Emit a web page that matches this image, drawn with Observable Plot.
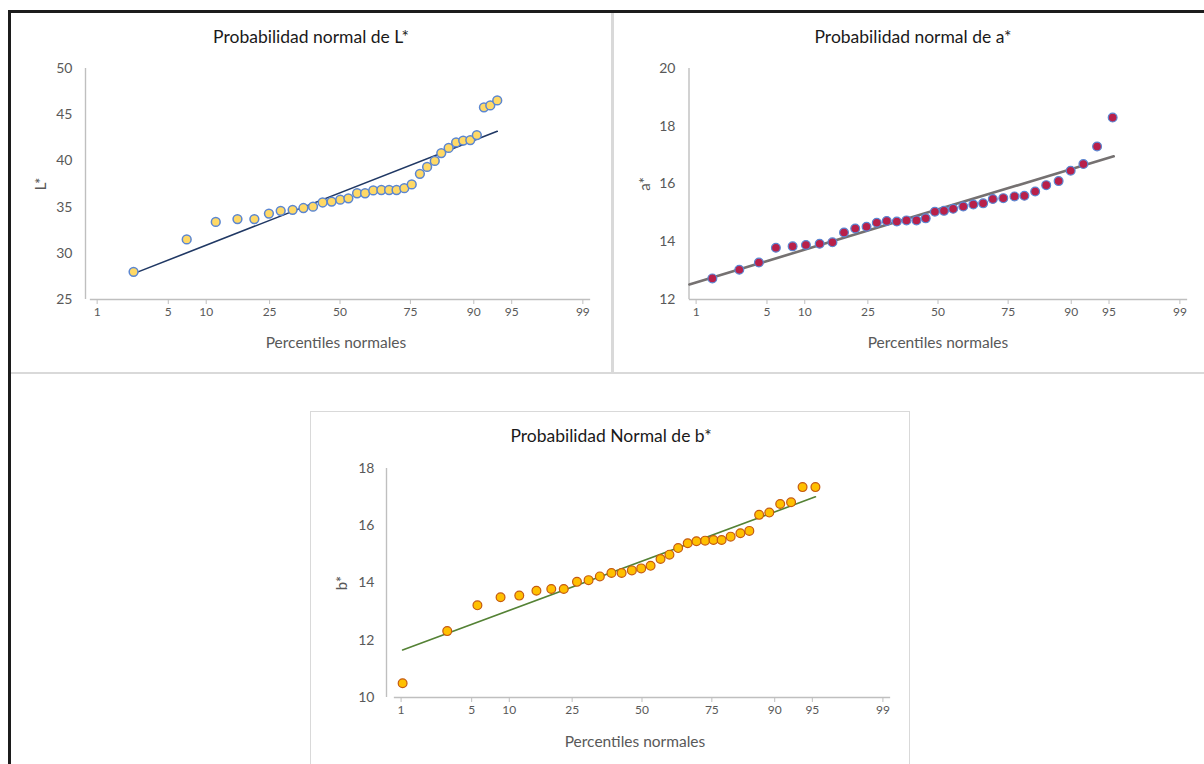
<!DOCTYPE html>
<html>
<head>
<meta charset="utf-8">
<script src="https://cdn.jsdelivr.net/npm/d3@7"></script>
<script src="https://cdn.jsdelivr.net/npm/@observablehq/plot@0.6"></script>
<style>
  html, body { margin: 0; padding: 0; background: #fff; }
  #page { position: relative; width: 1204px; height: 764px; overflow: hidden; background: #fff; font-family: Lato, "Open Sans", sans-serif; }
  .abs { position: absolute; }
  .chart svg { overflow: visible; }
</style>
</head>
<body>
<div id="page">
  <div class="abs" style="left:8px;top:10px;width:1196px;height:3px;background:#1c1c1c"></div>
  <div class="abs" style="left:8px;top:10px;width:3px;height:754px;background:#1c1c1c"></div>
  <div class="abs" style="left:611px;top:13px;width:3px;height:360px;background:#d9d9d9"></div>
  <div class="abs" style="left:11px;top:372px;width:1193px;height:2px;background:#d9d9d9"></div>
  <div class="abs" style="left:310px;top:411px;width:600px;height:370px;border:1.5px solid #d9d9d9;box-sizing:border-box"></div>
  <div id="cL" class="abs chart" style="left:0px;top:0px"></div>
  <div id="cA" class="abs chart" style="left:610px;top:0px"></div>
  <div id="cB" class="abs chart" style="left:300px;top:375px"></div>
</div>
<script>
const tickPct = [1, 5, 10, 25, 50, 75, 90, 95, 99];

const lTitle = "Probabilidad normal de L*";
const lTicks = [25, 30, 35, 40, 45, 50];
const lPct = [2.4, 7.1, 11.7, 16.3, 20.6, 24.8, 28.5, 32.5, 36.3, 39.8, 43.4, 46.8, 50.1, 53.2, 56.5, 59.5, 62.5, 65.4, 68.1, 70.6, 73.1, 75.4, 77.8, 79.8, 81.8, 83.4, 85.1, 86.7, 88.1, 89.4, 90.5, 91.6, 92.5, 93.4];
const lVal = [28.0, 31.5, 33.4, 33.7, 33.7, 34.3, 34.6, 34.7, 34.9, 35.05, 35.5, 35.6, 35.8, 35.95, 36.5, 36.5, 36.8, 36.85, 36.85, 36.85, 37.05, 37.45, 38.6, 39.35, 40.0, 40.85, 41.4, 42.0, 42.2, 42.25, 42.8, 45.8, 46.0, 46.55];
const lFitPct = [2.4, 93.4];
const lFitVal = [27.8, 43.2];

const aTitle = "Probabilidad normal de a*";
const aTicks = [12, 14, 16, 18, 20];
const aPct = [1.5, 2.8, 4.25, 5.95, 8.1, 10.2, 12.75, 15.5, 18.3, 21.3, 24.6, 27.8, 31.1, 34.6, 38.1, 41.8, 45.3, 48.8, 52.3, 55.8, 59.6, 63.3, 66.8, 70.1, 73.5, 76.9, 79.7, 82.5, 85.1, 87.7, 89.9, 91.9, 93.7, 95.35];
const aVal = [12.73, 13.03, 13.28, 13.79, 13.84, 13.89, 13.93, 13.98, 14.32, 14.46, 14.52, 14.66, 14.72, 14.7, 14.74, 14.74, 14.81, 15.04, 15.07, 15.14, 15.22, 15.29, 15.33, 15.48, 15.51, 15.57, 15.59, 15.74, 15.96, 16.1, 16.46, 16.69, 17.3, 18.3];
const aFitPct = [0.84, 95.45];
const aFitVal = [12.52, 16.96];

const bTitle = "Probabilidad Normal de b*";
const bTicks = [10, 12, 14, 16, 18];
const bPct = [1.04, 3.0, 5.6, 8.6, 11.8, 15.4, 19.05, 22.5, 26.5, 30.3, 34.2, 38.4, 42.2, 46.1, 49.7, 53.3, 57.1, 60.45, 63.65, 67.05, 70.05, 72.9, 75.5, 77.9, 80.4, 82.9, 85.0, 87.1, 89.05, 90.9, 92.5, 93.95, 95.3];
const bVal = [10.5, 12.32, 13.22, 13.5, 13.56, 13.73, 13.79, 13.79, 14.04, 14.1, 14.23, 14.35, 14.35, 14.44, 14.51, 14.6, 14.84, 14.99, 15.22, 15.39, 15.46, 15.48, 15.5, 15.5, 15.62, 15.74, 15.82, 16.38, 16.46, 16.76, 16.82, 17.35, 17.35];
const bFitPct = [1.04, 95.3];
const bFitVal = [11.66, 17.01];

const xAxisLabel = "Percentiles normales";

// ---- normal probability (probit) transform for the x axis ----
function probit(p) {
  const a = [-3.969683028665376e+01, 2.209460984245205e+02, -2.759285104469687e+02, 1.383577518672690e+02, -3.066479806614716e+01, 2.506628277459239e+00];
  const b = [-5.447609879822406e+01, 1.615858368580409e+02, -1.556989798598866e+02, 6.680131188771972e+01, -1.328068155288572e+01];
  const c = [-7.784894002430293e-03, -3.223964580411365e-01, -2.400758277161838e+00, -2.549732539343734e+00, 4.374664141464968e+00, 2.938163982698783e+00];
  const d = [7.784695709041462e-03, 3.224671290700398e-01, 2.445134137142996e+00, 3.754408661907416e+00];
  const pl = 0.02425, ph = 1 - pl;
  if (p < pl) {
    const q = Math.sqrt(-2 * Math.log(p));
    return (((((c[0]*q+c[1])*q+c[2])*q+c[3])*q+c[4])*q+c[5]) / ((((d[0]*q+d[1])*q+d[2])*q+d[3])*q+1);
  }
  if (p <= ph) {
    const q = p - 0.5, r = q * q;
    return (((((a[0]*r+a[1])*r+a[2])*r+a[3])*r+a[4])*r+a[5])*q / (((((b[0]*r+b[1])*r+b[2])*r+b[3])*r+b[4])*r+1);
  }
  const q = Math.sqrt(-2 * Math.log(1 - p));
  return -(((((c[0]*q+c[1])*q+c[2])*q+c[3])*q+c[4])*q+c[5]) / ((((d[0]*q+d[1])*q+d[2])*q+d[3])*q+1);
}
const z = (pct) => probit(pct / 100);
const tickZ = tickPct.map(z);
const X_DOMAIN = [-2.39, 2.39];

function chart(o) {
  const pts = o.pct.map((p, i) => ({p, v: o.val[i]}));
  const fit = o.fitPct.map((p, i) => ({p, v: o.fitVal[i]}));
  const [y0, y1] = [o.yTicks[0], o.yTicks[o.yTicks.length - 1]];
  return Plot.plot({
    width: o.width, height: o.height,
    marginLeft: o.ml, marginRight: o.mr, marginTop: o.mt, marginBottom: o.mb,
    style: {fontFamily: "Lato, 'Open Sans', sans-serif", background: "transparent", overflow: "visible"},
    x: {domain: X_DOMAIN},
    y: {domain: [y0, y1]},
    marks: [
      Plot.frame({anchor: "bottom", stroke: "#bfbfbf", strokeWidth: 1.3}),
      Plot.ruleX([X_DOMAIN[0]], {y1: y0, y2: y1, dx: o.gap, stroke: "#bfbfbf", strokeWidth: 1.4}),
      Plot.axisX({ticks: tickZ, tickFormat: (t) => String(tickPct[tickZ.indexOf(t)]), tickSize: 5, tickPadding: 3,
        fontSize: 12, fill: "#595959", stroke: "#bfbfbf", label: null}),
      Plot.axisY({ticks: o.yTicks, tickSize: 0, tickPadding: o.pad, fontSize: 14, fill: "#595959", label: null}),
      Plot.line(fit, {x: (d) => z(d.p), y: "v", stroke: o.lineColor, strokeWidth: o.lineWidth}),
      Plot.dot(pts, {x: (d) => z(d.p), y: "v", r: 4.4, fill: o.fill, stroke: o.stroke, strokeWidth: o.sw}),
      Plot.text([o.title], {text: (d) => d, frameAnchor: "top", lineAnchor: "middle", textAnchor: "middle", dx: o.tdx, dy: o.tdy, fontSize: 17.5, fill: "#1a1a1a"}),
      Plot.text([o.yLabel], {text: (d) => d, frameAnchor: "left", lineAnchor: "middle", textAnchor: "middle", rotate: -90, dx: o.ydx, fontSize: 15, fill: "#595959"}),
      Plot.text([xAxisLabel], {text: (d) => d, frameAnchor: "bottom", lineAnchor: "middle", textAnchor: "middle", dx: o.xdx, dy: o.xdy, fontSize: 15.5, fill: "#595959"})
    ]
  });
}

document.getElementById("cL").append(chart({
  width: 610, height: 372, ml: 90, mr: 21, mt: 68, mb: 73,
  pct: lPct, val: lVal, fitPct: lFitPct, fitVal: lFitVal, yTicks: lTicks,
  title: lTitle, yLabel: "L*", gap: -5, pad: 18,
  tdx: -29, tdy: -31, ydx: -49, xdx: -4, xdy: 44,
  lineColor: "#203864", lineWidth: 1.6, fill: "#ffd966", stroke: "#5b86d1", sw: 1.5
}));
document.getElementById("cA").append(chart({
  width: 594, height: 372, ml: 79, mr: 18, mt: 68, mb: 73,
  pct: aPct, val: aVal, fitPct: aFitPct, fitVal: aFitVal, yTicks: aTicks,
  title: aTitle, yLabel: "a*", gap: -0.5, pad: 14,
  tdx: -25, tdy: -31, ydx: -44, xdx: 0, xdy: 44,
  lineColor: "#757171", lineWidth: 2.6, fill: "#b8204a", stroke: "#5b86d1", sw: 1.2
}));
document.getElementById("cB").append(chart({
  width: 620, height: 389, ml: 94, mr: 31, mt: 93, mb: 67,
  pct: bPct, val: bVal, fitPct: bFitPct, fitVal: bFitVal, yTicks: bTicks,
  title: bTitle, yLabel: "b*", gap: -8, pad: 20,
  tdx: -31, tdy: -32, ydx: -52, xdx: -7, xdy: 45,
  lineColor: "#548235", lineWidth: 1.6, fill: "#ffc000", stroke: "#c55a11", sw: 1.2
}));
</script>
</body>
</html>
